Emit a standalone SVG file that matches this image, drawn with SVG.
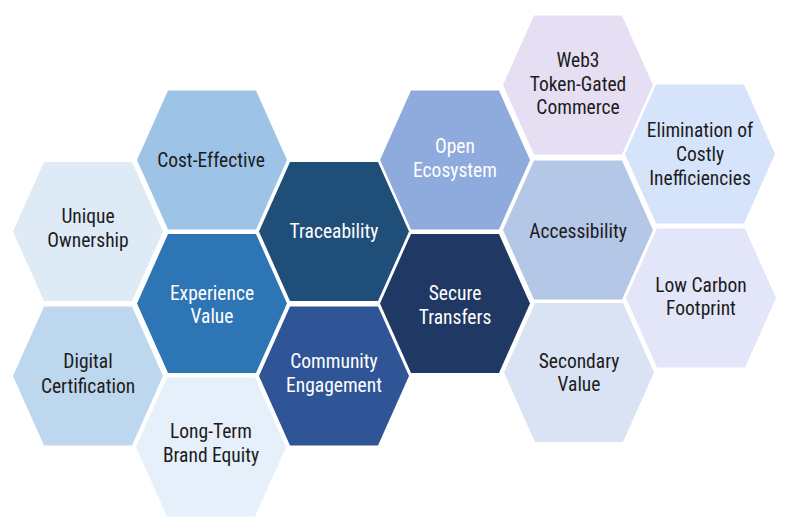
<svg xmlns="http://www.w3.org/2000/svg" width="788" height="530" viewBox="0 0 788 530">
  <defs>
    <polygon id="hex" points="-75,0 -44,-69.5 44,-69.5 75,0 44,69.5 -44,69.5"/>
  </defs>
  <style>
    text { font-family: Roboto, "Liberation Sans", sans-serif; font-size: 19.5px; font-stretch: 87.5%; text-anchor: middle; }
    .dk { fill: #1c1c1c; }
    .lt { fill: #ffffff; }
  </style>
  <rect width="788" height="530" fill="#ffffff"/>
  <g id="connectors"/>

  <g id="unique-ownership">
    <use href="#hex" x="88" y="231.5" fill="#DEEAF6"/>
    <text class="dk" x="88" y="223">Unique</text>
    <text class="dk" x="88" y="247">Ownership</text>
  </g>
  <g id="digital-certification">
    <use href="#hex" x="88" y="376" fill="#BDD7EE"/>
    <text class="dk" x="88" y="368">Digital</text>
    <text class="dk" x="88" y="392.5">Certification</text>
  </g>
  <g id="cost-effective">
    <use href="#hex" x="212" y="160" fill="#9DC3E6"/>
    <text class="dk" x="211" y="166.5">Cost-Effective</text>
  </g>
  <g id="experience-value">
    <use href="#hex" x="212" y="303.5" fill="#2E75B6"/>
    <text class="lt" x="212" y="300">Experience</text>
    <text class="lt" x="212" y="323">Value</text>
  </g>
  <g id="long-term-brand-equity">
    <use href="#hex" x="211" y="447" fill="#E6F0FA"/>
    <text class="dk" x="211" y="438">Long-Term</text>
    <text class="dk" x="211" y="461.5">Brand Equity</text>
  </g>
  <g id="traceability">
    <use href="#hex" x="334" y="231.5" fill="#1F4E79"/>
    <text class="lt" x="334" y="237.5">Traceability</text>
  </g>
  <g id="community-engagement">
    <use href="#hex" x="334" y="376" fill="#2F5597"/>
    <text class="lt" x="334" y="368">Community</text>
    <text class="lt" x="334" y="391.5">Engagement</text>
  </g>
  <g id="open-ecosystem">
    <use href="#hex" x="455" y="160" fill="#8FAADC"/>
    <text class="lt" x="455" y="152.5">Open</text>
    <text class="lt" x="455" y="176.5">Ecosystem</text>
  </g>
  <g id="secure-transfers">
    <use href="#hex" x="455" y="303.5" fill="#203864"/>
    <text class="lt" x="455" y="300">Secure</text>
    <text class="lt" x="455" y="323.5">Transfers</text>
  </g>
  <g id="web3-token-gated-commerce">
    <use href="#hex" x="578" y="85" fill="#E6DFF3"/>
    <text class="dk" x="578" y="66.5">Web3</text>
    <text class="dk" x="578" y="90.5">Token-Gated</text>
    <text class="dk" x="578" y="114">Commerce</text>
  </g>
  <g id="accessibility">
    <use href="#hex" x="578" y="230" fill="#B4C7E7"/>
    <text class="dk" x="578" y="237.5">Accessibility</text>
  </g>
  <g id="secondary-value">
    <use href="#hex" x="579" y="372.5" fill="#DAE3F3"/>
    <text class="dk" x="579" y="367.5">Secondary</text>
    <text class="dk" x="579" y="391">Value</text>
  </g>
  <g id="elimination-of-costly-inefficiencies">
    <use href="#hex" x="700" y="154" fill="#D6E4FB"/>
    <text class="dk" x="700" y="137">Elimination of</text>
    <text class="dk" x="700" y="160.5">Costly</text>
    <text class="dk" x="700" y="184.5">Inefficiencies</text>
  </g>
  <g id="low-carbon-footprint">
    <use href="#hex" x="701" y="298" fill="#E3E5F8"/>
    <text class="dk" x="701" y="291.5">Low Carbon</text>
    <text class="dk" x="701" y="315">Footprint</text>
  </g>
</svg>
